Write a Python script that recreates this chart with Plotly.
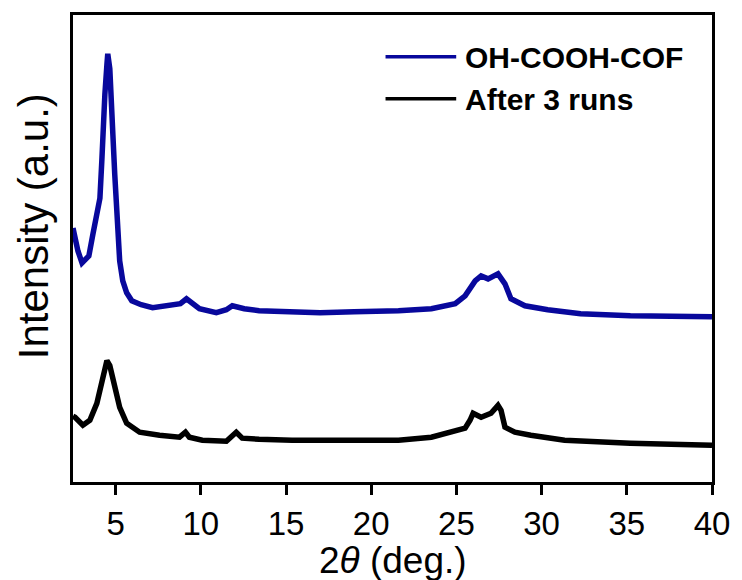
import plotly.graph_objects as go

# 2theta (deg.) and intensity (a.u.)
cof_x = [2.5, 2.62, 2.79, 3.03, 3.26, 3.43, 3.67, 3.90, 4.08, 4.19, 4.25, 4.37, 4.49, 4.54,
         4.66, 4.78, 4.84, 4.95, 5.07, 5.13, 5.24, 5.42, 5.65, 5.95, 6.5, 7.17, 8.17, 8.8,
         9.16, 9.6, 9.92, 10.91, 11.5, 11.85, 12.55, 13.42, 15.0, 17.0, 19.0, 20.0, 21.6,
         23.53, 24.93, 25.51, 26.1, 26.45, 26.86, 27.44, 27.85, 28.2, 29.02, 30.36, 32.29,
         35.21, 37.5, 39.88, 40.0]
cof_y = [255, 242, 232, 220, 224, 227, 249, 269, 285, 322, 355, 389, 419, 430,
         415, 382, 349, 309, 275, 242, 222, 202, 190, 182, 178, 175, 177, 179,
         184, 179, 174, 170, 173, 177, 174, 172, 171, 170, 171, 171, 172,
         174, 179, 187, 202, 207, 204, 209, 199, 184, 177, 173, 169,
         167, 166, 166, 166]

run3_x = [2.5, 2.62, 3.08, 3.49, 3.90, 4.08, 4.25, 4.49, 4.66, 4.84, 5.07, 5.24, 5.65, 6.41,
          7.58, 8.75, 9.1, 9.33, 10.09, 11.5, 12.08, 12.43, 13.42, 15.35, 19.26, 21.6, 23.53,
          25.51, 25.8, 25.98, 26.45, 27.03, 27.44, 27.62, 27.85, 28.43, 29.37, 31.35, 35.21,
          39.88, 40.0]
run3_y = [66, 65, 57, 62, 79, 92, 109, 122, 117, 102, 87, 75, 59, 50,
          47, 45, 50, 45, 42, 41, 50, 44, 43, 42, 42, 42, 45,
          54, 62, 69, 65, 69, 77, 72, 55, 50, 47, 42, 39,
          37, 37]

x_ticks = [5, 10, 15, 20, 25, 30, 35, 40]
names = ["OH-COOH-COF", "After 3 runs"]
colors = ["#08089C", "#000000"]

FONT = "Arial, Liberation Sans, sans-serif"

fig = go.Figure()
fig.add_trace(go.Scatter(x=cof_x, y=cof_y, mode="lines", name=names[0],
                         line=dict(color=colors[0], width=5.5), showlegend=False))
fig.add_trace(go.Scatter(x=run3_x, y=run3_y, mode="lines", name=names[1],
                         line=dict(color=colors[1], width=5.5), showlegend=False))

W, H = 742, 580
L, R, T, B = 73, 27, 13, 98
pw, ph = W - L - R, H - T - B

def px_to_paper(px, py):
    return (px - L) / pw, (H - B - py) / ph

# manual legend
for i, (nm, col) in enumerate(zip(names, colors)):
    yy = [55, 97][i]
    x0, y0 = px_to_paper(387, yy)
    x1, _ = px_to_paper(458, yy)
    fig.add_shape(type="line", xref="paper", yref="paper", x0=x0, x1=x1, y0=y0, y1=y0,
                  line=dict(color=col, width=3.5))
    tx, ty = px_to_paper(465, yy + 1)
    fig.add_annotation(xref="paper", yref="paper", x=tx, y=ty, text="<b>%s</b>" % nm,
                       showarrow=False, xanchor="left", yanchor="middle",
                       font=dict(family=FONT, size=30, color="black"))

ax, ay = px_to_paper(33, 225)
fig.add_annotation(xref="paper", yref="paper", x=ax, y=ay, text="Intensity (a.u.)",
                   textangle=-90, showarrow=False, xanchor="center", yanchor="middle",
                   font=dict(family=FONT, size=42, color="black"))
bx, by = px_to_paper(395, 561)
fig.add_annotation(xref="paper", yref="paper", x=bx, y=by, text="2<i>θ</i> (deg.)",
                   showarrow=False, xanchor="center", yanchor="middle",
                   font=dict(family=FONT, size=37, color="black"))

fig.update_layout(
    width=W, height=H,
    margin=dict(l=L, r=R, t=T, b=B),
    plot_bgcolor="white", paper_bgcolor="white",
    font=dict(family=FONT, color="black"),
    xaxis=dict(range=[2.5, 40], tickvals=x_ticks, ticktext=[str(v) for v in x_ticks],
               ticks="outside", ticklen=10, tickwidth=3, tickcolor="black",
               showline=True, linewidth=3, linecolor="black", mirror=True,
               showgrid=False, zeroline=False, tickfont=dict(size=33, family=FONT)),
    yaxis=dict(range=[0, 469], showticklabels=False, ticks="",
               showline=True, linewidth=3, linecolor="black", mirror=True,
               showgrid=False, zeroline=False),
)

fig.write_html("out.html")
